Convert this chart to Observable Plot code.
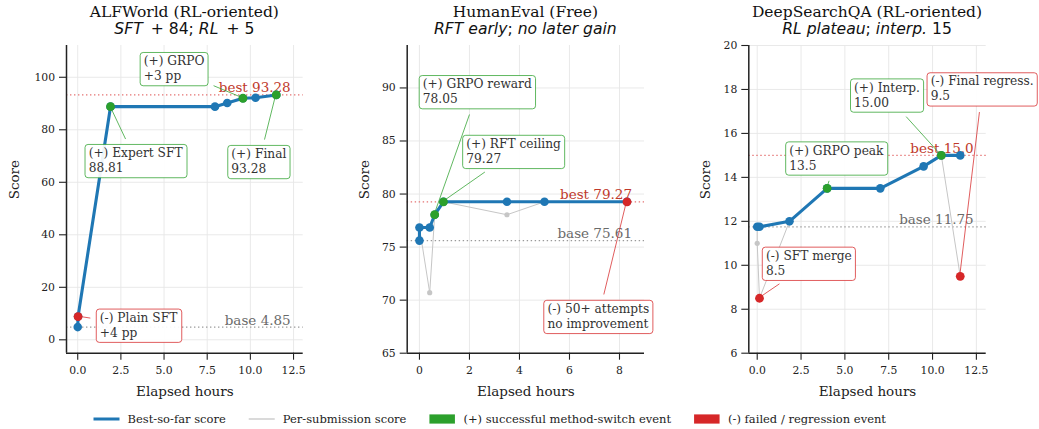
<!DOCTYPE html>
<html><head><meta charset="utf-8">
<script src="https://cdn.jsdelivr.net/npm/d3@7"></script>
<script src="https://cdn.jsdelivr.net/npm/@observablehq/plot@0.6"></script>
<style>
html,body{margin:0;padding:0;background:#fff;}
#root{position:relative;width:1039px;height:429px;overflow:hidden;background:#fff;}
#root .panel{position:absolute;top:0;}
#overlay{position:absolute;left:0;top:0;pointer-events:none;}
</style></head><body><div id="root"></div>
<script>
// ---------------- DATA ----------------
const titles = ["ALFWorld (RL-oriented)", "HumanEval (Free)", "DeepSearchQA (RL-oriented)"];
const subtitles = [
  [["SFT", true], [" \u2009+ 84; ", false], ["RL", true], [" \u2009+ 5", false]],
  [["RFT early", true], ["; ", false], ["no later gain", true]],
  [["RL plateau", true], ["; ", false], ["interp.", true], [" 15", false]]
];
const xLabel = "Elapsed hours";
const yLabel = "Score";

// ALFWorld
const xTicks1 = [0, 2.5, 5, 7.5, 10, 12.5];
const yTicks1 = [0, 20, 40, 60, 80, 100];
const xDomain1 = [-0.65, 13.06];
const yDomain1 = [-5.1, 112.1];
const bestX1 = [0, 0.02, 1.9, 7.95, 8.66, 9.57, 10.3, 11.5];
const bestY1 = [4.85, 8.85, 88.81, 88.81, 90.2, 92.0, 92.2, 93.28];
const subX1 = [0, 0.02, 1.9, 7.95, 8.66, 9.57, 10.3, 11.5];
const subY1 = [4.85, 8.85, 88.81, 88.81, 90.2, 92.0, 92.2, 93.28];
const evX1 = [0.02, 1.9, 9.57, 11.5];
const evY1 = [8.85, 88.81, 92.0, 93.28];
const evKind1 = ["-", "+", "+", "+"];
const annText1 = [["(+) Expert SFT", "88.81"], ["(+) GRPO", "+3 pp"], ["(+) Final", "93.28"], ["(-) Plain SFT", "+4 pp"]];
const annX1 = [1.9, 9.57, 11.5, 0.02];
const annY1 = [88.81, 92.0, 93.28, 8.85];
const annKind1 = ["+", "+", "+", "-"];

// HumanEval
const xTicks2 = [0, 2, 4, 6, 8];
const yTicks2 = [65, 70, 75, 80, 85, 90];
const xDomain2 = [-0.49, 9.0];
const yDomain2 = [65, 94];
const bestX2 = [0, 0, 0.41, 0.61, 0.96, 3.5, 5.0, 8.3];
const bestY2 = [75.61, 76.85, 76.85, 78.05, 79.27, 79.27, 79.27, 79.27];
const subX2 = [0, 0, 0.41, 0.61, 0.96, 3.5, 5.0, 8.3];
const subY2 = [75.61, 76.85, 70.7, 78.05, 79.27, 78.05, 79.27, 79.27];
const evX2 = [0.61, 0.96, 8.3];
const evY2 = [78.05, 79.27, 79.27];
const evKind2 = ["+", "+", "-"];
const annText2 = [["(+) GRPO reward", "78.05"], ["(+) RFT ceiling", "79.27"], ["(-) 50+ attempts", "no improvement"]];
const annX2 = [0.61, 0.96, 8.3];
const annY2 = [78.05, 79.27, 79.27];
const annKind2 = ["+", "+", "-"];

// DeepSearchQA
const xTicks3 = [0, 2.5, 5, 7.5, 10, 12.5];
const yTicks3 = [6, 8, 10, 12, 14, 16, 18, 20];
const xDomain3 = [-0.48, 13.06];
const yDomain3 = [6, 20];
const bestX3 = [0, 0.13, 1.84, 3.99, 7.02, 9.49, 10.5, 11.58];
const bestY3 = [11.75, 11.75, 12.0, 13.5, 13.5, 14.5, 15.0, 15.0];
const subX3 = [0, 0, 0.13, 1.84, 3.99, 7.02, 9.49, 10.5, 11.58];
const subY3 = [11.75, 11.0, 8.5, 12.0, 13.5, 13.5, 14.5, 15.0, 9.5];
const evX3 = [0.13, 3.99, 10.5, 11.58];
const evY3 = [8.5, 13.5, 15.0, 9.5];
const evKind3 = ["-", "+", "+", "-"];
const annText3 = [["(-) SFT merge", "8.5"], ["(+) GRPO peak", "13.5"], ["(+) Interp.", "15.00"], ["(-) Final regress.", "9.5"]];
const annX3 = [0.13, 3.99, 10.5, 11.58];
const annY3 = [8.5, 13.5, 15.0, 9.5];
const annKind3 = ["-", "+", "+", "-"];

const bestLabels = ["93.28", "79.27", "15.0"];
const baseLabels = ["4.85", "75.61", "11.75"];
const legendLabels = ["Best-so-far score", "Per-submission score", "(+) successful method-switch event", "(-) failed / regression event"];

// ---------------- LAYOUT / STYLE ----------------
const SERIF = "DejaVu Serif";
const BLUE = "#1f77b4", GREEN = "#2ca02c", RED = "#d62728", GREY = "#c6c6c6";
const H = 429, MT = 45, MB = 76.3;
const layout = [
  {left: 0, w: 340, ml: 66, mr: 37.3, yLabelGap: 51.8, fmt: ".1f",
   offsets: [[-25, 38.3], [-102.3, -45.3], [-48, 51], [18.7, -7]]},
  {left: 340, w: 349, ml: 66.7, mr: 45, yLabelGap: 42.9, fmt: "d",
   offsets: [[-15, -138.7], [19.7, -66], [-82.7, 99]]},
  {left: 689, w: 350, ml: 59.3, mr: 53.3, yLabelGap: 43.6, fmt: ".1f",
   offsets: [[3.3, -50.6], [-41, -46], [-90.3, -76], [-32.7, -203]]}
];
const panels = [
  {xTicks: xTicks1, yTicks: yTicks1, xDomain: xDomain1, yDomain: yDomain1, bestX: bestX1, bestY: bestY1, subX: subX1, subY: subY1,
   evX: evX1, evY: evY1, evKind: evKind1, annText: annText1, annX: annX1, annY: annY1, annKind: annKind1},
  {xTicks: xTicks2, yTicks: yTicks2, xDomain: xDomain2, yDomain: yDomain2, bestX: bestX2, bestY: bestY2, subX: subX2, subY: subY2,
   evX: evX2, evY: evY2, evKind: evKind2, annText: annText2, annX: annX2, annY: annY2, annKind: annKind2},
  {xTicks: xTicks3, yTicks: yTicks3, xDomain: xDomain3, yDomain: yDomain3, bestX: bestX3, bestY: bestY3, subX: subX3, subY: subY3,
   evX: evX3, evY: evY3, evKind: evKind3, annText: annText3, annX: annX3, annY: annY3, annKind: annKind3}
];

const root = document.getElementById("root");

function annotate(plot, p, L) {
  const sx = plot.scale("x"), sy = plot.scale("y");
  const NS = "http://www.w3.org/2000/svg";
  const firstDot = plot.querySelector('g[aria-label="dot"]');
  const connNode = document.createElementNS(NS, "g");
  plot.insertBefore(connNode, firstDot);
  const conn = d3.select(connNode);
  const boxes = d3.select(plot).append("g");
  const PADX = 3.6, LH = 15, TOP = 12.7, BOT = 5.6;
  p.annX.forEach((xv, i) => {
    const px = sx.apply(xv), py = sy.apply(p.annY[i]);
    const col = p.annKind[i] === "+" ? GREEN : RED;
    const bx = px + L.offsets[i][0], by = py + L.offsets[i][1];
    const g = boxes.append("g");
    const rect = g.append("rect");
    const t = g.append("text").attr("font-family", SERIF).attr("font-size", 12.2).attr("fill", "#333")
      .attr("text-anchor", "start");
    p.annText[i].forEach((line, j) => t.append("tspan").attr("x", bx + PADX).attr("y", by + TOP + j * LH).text(line));
    const w = t.node().getBBox().width + 2 * PADX;
    const h = TOP + (p.annText[i].length - 1) * LH + BOT;
    rect.attr("x", bx).attr("y", by).attr("width", w).attr("height", h).attr("rx", 3)
      .attr("fill", "white").attr("fill-opacity", 0.92).attr("stroke", col).attr("stroke-opacity", 0.75).attr("stroke-width", 1);
    const cx = bx + w / 2, cy = by + h / 2;
    const dx = px - cx, dy = py - cy, len = Math.hypot(dx, dy);
    const ux = dx / len, uy = dy / len;
    const te = Math.min(ux ? (w / 2) / Math.abs(ux) : Infinity, uy ? (h / 2) / Math.abs(uy) : Infinity);
    const s0 = te + 6, s1 = len - 2;
    if (s1 > s0) {
      conn.append("line").attr("x1", cx + ux * s0).attr("y1", cy + uy * s0).attr("x2", cx + ux * s1).attr("y2", cy + uy * s1)
        .attr("stroke", col).attr("stroke-opacity", 0.75).attr("stroke-width", 1);
    }
  });
}

panels.forEach((p, k) => {
  const L = layout[k];
  const best = p.bestX.map((x, i) => ({x, y: p.bestY[i]}));
  const sub = p.subX.map((x, i) => ({x, y: p.subY[i]}));
  const ev = p.evX.map((x, i) => ({x, y: p.evY[i], k: p.evKind[i]}));
  const bestV = +bestLabels[k], baseV = +baseLabels[k];
  const plot = Plot.plot({
    width: L.w, height: H, marginLeft: L.ml, marginRight: L.mr, marginTop: MT, marginBottom: MB,
    style: {fontFamily: SERIF, fontSize: "10.8px", color: "#222", background: "transparent", overflow: "visible"},
    x: {domain: p.xDomain},
    y: {domain: p.yDomain},
    marks: [
      Plot.gridX(p.xTicks, {stroke: "#e6e6e6", strokeOpacity: 1, strokeWidth: 0.9}),
      Plot.gridY(p.yTicks, {stroke: "#e6e6e6", strokeOpacity: 1, strokeWidth: 0.9}),
      Plot.ruleY([baseV], {stroke: "#9a9a9a", strokeWidth: 1.2, strokeDasharray: "1.4,2.6"}),
      Plot.ruleY([bestV], {stroke: "#e57373", strokeWidth: 1.2, strokeDasharray: "1.4,2.6"}),
      Plot.text([baseV], {y: d => d, text: () => "base " + baseLabels[k], frameAnchor: "right", textAnchor: "end",
        lineAnchor: "bottom", dx: -12.5, dy: -2.5, fill: "#6a6a6a", fontSize: 13.5}),
      Plot.text([bestV], {y: d => d, text: () => "best " + bestLabels[k], frameAnchor: "right", textAnchor: "end",
        lineAnchor: "bottom", dx: -12.5, dy: -2.5, fill: "#c0392b", fontSize: 13.5}),
      Plot.line(sub, {x: "x", y: "y", stroke: GREY, strokeWidth: 1}),
      Plot.dot(sub, {x: "x", y: "y", r: 2.6, fill: GREY}),
      Plot.line(best, {x: "x", y: "y", stroke: BLUE, strokeWidth: 3.1}),
      Plot.dot(best, {x: "x", y: "y", r: 4.3, fill: BLUE}),
      Plot.dot(ev.filter(d => d.k === "+"), {x: "x", y: "y", r: 4.4, fill: GREEN}),
      Plot.dot(ev.filter(d => d.k === "-"), {x: "x", y: "y", r: 4.4, fill: RED}),
      Plot.axisX(p.xTicks, {tickFormat: d3.format(L.fmt), tickSize: 7, tickPadding: 6, label: null, strokeWidth: 1.1}),
      Plot.axisY(p.yTicks, {tickFormat: d3.format("d"), tickSize: 7, tickPadding: 4.5, label: null, strokeWidth: 1.1}),
      Plot.ruleX([p.xDomain[0]], {stroke: "#222", strokeWidth: 1.5}),
      Plot.ruleY([p.yDomain[0]], {stroke: "#222", strokeWidth: 1.5}),
      Plot.text([xLabel], {text: d => d, frameAnchor: "bottom", dy: 32.8, lineAnchor: "top", fontSize: 13.5, fill: "#222"}),
      Plot.text([yLabel], {text: d => d, frameAnchor: "left", rotate: -90, dx: -L.yLabelGap, lineAnchor: "middle", fontSize: 13.5, fill: "#222"})
    ]
  });
  const div = document.createElement("div");
  div.className = "panel";
  div.style.left = L.left + "px";
  div.appendChild(plot);
  root.appendChild(div);
  annotate(plot, p, L);
});

// titles + legend overlay
const ov = d3.select(root).append("svg").attr("id", "overlay").attr("width", 1039).attr("height", 429);
layout.forEach((L, i) => {
  const cx = L.left + L.ml + (L.w - L.ml - L.mr) / 2;
  ov.append("text").attr("x", cx).attr("y", 17.3).attr("text-anchor", "middle").attr("font-family", SERIF)
    .attr("font-size", 15.5).attr("fill", "#111").text(titles[i]);
  const st = ov.append("text").attr("x", cx).attr("y", 33.9).attr("text-anchor", "middle").attr("font-family", "DejaVu Sans")
    .attr("font-size", 15.6).attr("fill", "#111").style("white-space", "pre");
  subtitles[i].forEach(([t, it]) => st.append("tspan").attr("font-style", it ? "italic" : "normal").text(t));
});
const legendSwatch = [
  {type: "line", color: BLUE, width: 3},
  {type: "line", color: GREY, width: 1.3},
  {type: "rect", color: GREEN},
  {type: "rect", color: RED}
];
let lx = 93.5;
const ly = 419;
legendLabels.forEach((lab, i) => {
  const s = legendSwatch[i];
  if (s.type === "line") {
    ov.append("line").attr("x1", lx).attr("x2", lx + 26).attr("y1", ly).attr("y2", ly).attr("stroke", s.color).attr("stroke-width", s.width);
  } else {
    ov.append("rect").attr("x", lx).attr("y", ly - 4.6).attr("width", 25.5).attr("height", 9.2).attr("fill", s.color);
  }
  const t = ov.append("text").attr("x", lx + 34).attr("y", ly).attr("dy", "0.36em").attr("font-family", SERIF)
    .attr("font-size", 11.5).attr("fill", "#222").text(lab);
  lx += 34 + t.node().getComputedTextLength() + 23;
});
</script></body></html>
